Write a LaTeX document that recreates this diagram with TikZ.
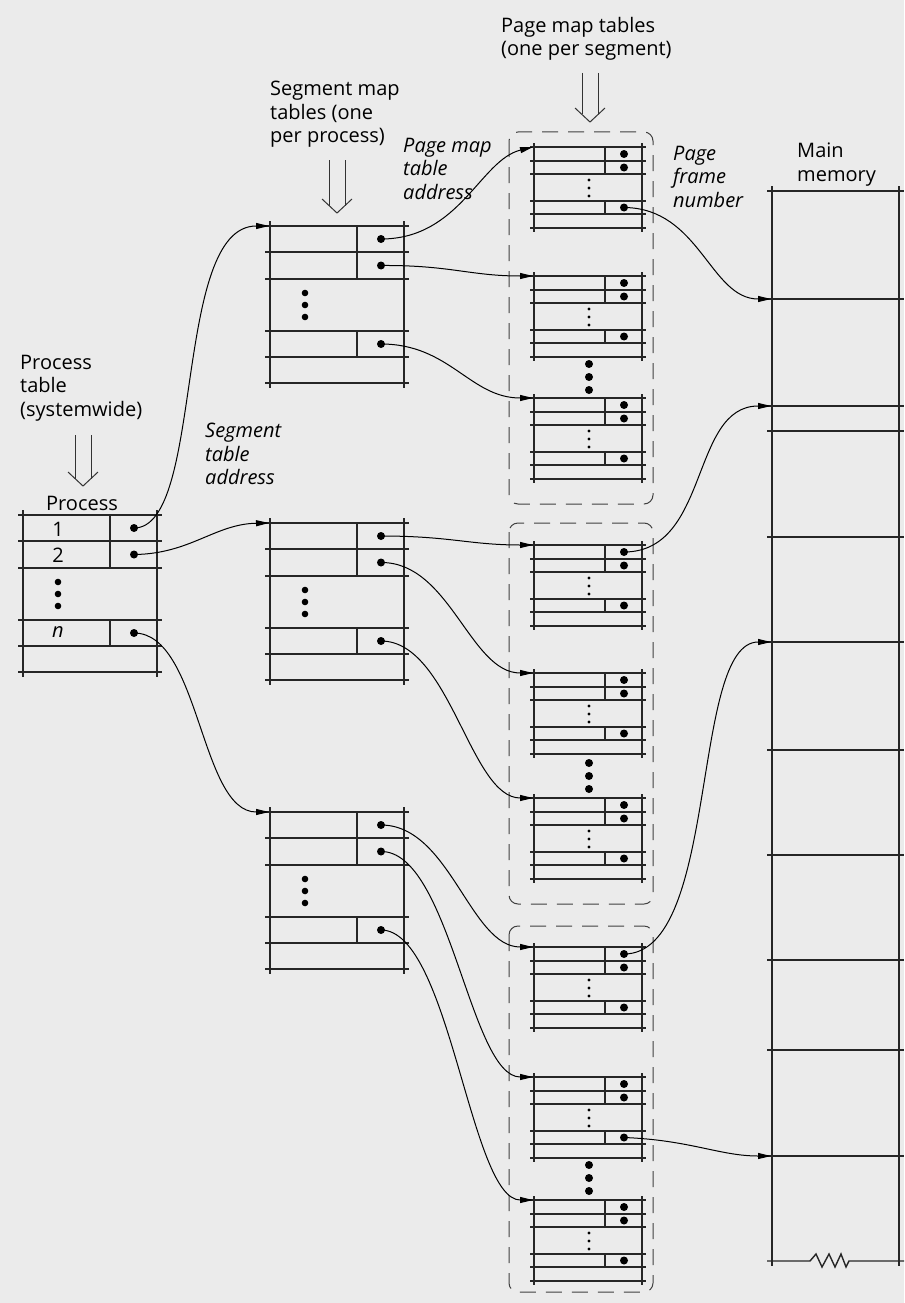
\documentclass[tikz,border=0pt]{standalone}
\usepackage{fontspec}
\setmainfont{Open Sans}
\usetikzlibrary{arrows.meta}
\newcommand\bigtab[3]{%
  \node[tabnode, minimum width=134pt, minimum height=157pt] (#1) at (#2,#3) {};
  \begin{scope}[shift={(#2,#3)}]
    \foreach \yy in {0,26,53,105,131,157}{\draw[tabline] (-5,\yy) -- (139,\yy);}
    \draw[tabline] (0,-5) -- (0,162);
    \draw[tabline] (134,-5) -- (134,162);
    \draw[tabline] (87,0) -- (87,53);
    \draw[tabline] (87,105) -- (87,131);
    \coordinate (#1-1) at (111,13);
    \coordinate (#1-2) at (111,39.5);
    \coordinate (#1-n) at (111,118);
    \foreach \q in {1,2,n}{\fill (#1-\q) circle (4pt);}
    \foreach \yy in {67,79,91}{\fill (35,\yy) circle (3.3pt);}
  \end{scope}}
\newcommand\pgtab[3]{%
  \node[tabnode, minimum width=108pt, minimum height=81pt] (#1) at (#2,#3) {};
  \begin{scope}[shift={(#2,#3)}]
    \foreach \yy in {0,14,27,54,67,81}{\draw[pgline] (-4,\yy) -- (112,\yy);}
    \draw[pgline] (0,-4) -- (0,85);
    \draw[pgline] (108,-4) -- (108,85);
    \draw[pgline] (71,0) -- (71,27);
    \draw[pgline] (71,54) -- (71,67);
    \coordinate (#1-1) at (90,7);
    \coordinate (#1-2) at (90,20.5);
    \coordinate (#1-n) at (90,60.5);
    \foreach \q in {1,2,n}{\fill (#1-\q) circle (4pt);}
    \foreach \yy in {33,41,49}{\fill (55,\yy) circle (1.7pt);}
  \end{scope}}
\newcommand\hollowarrow[4]{% name, x, ytop, ytip
  \coordinate (#1) at (#2,#4);
  \draw[hollow] (#2-8,#3) -- (#2-8,#4-7.5);
  \draw[hollow] (#2+8,#3) -- (#2+8,#4-7.5);
  \draw[hollow] (#2-15,#4-14) -- (#1) -- (#2+15,#4-14);}
\newcommand\bigdots[3]{% name, x, ytop
  \foreach \k [count=\i] in {0,13,26}{\fill (#2,#3+\k) circle (4pt) coordinate (#1-\i);}}
\begin{document}
\begin{tikzpicture}[x=1pt,y=-1pt,
  tabline/.style={line width=1.8pt, draw=black!85},
  pgline/.style={line width=1.6pt, draw=black!85},
  memline/.style={line width=1.4pt, draw=black!85},
  tabnode/.style={draw=none, inner sep=0pt, outer sep=0pt, anchor=north west},
  conn/.style={line width=1pt, black, -{Triangle[length=13pt,width=6pt]}},
  lbl/.style={inner sep=0pt, anchor=north west, align=left, font=\fontsize{20}{23.5}\selectfont},
  ilbl/.style={inner sep=0pt, anchor=north west, align=left, font=\fontsize{20}{23.5}\selectfont\itshape},
  grp/.style={draw=black!75, line width=1pt, dash pattern=on 16pt off 10pt, rounded corners=9pt},
  hollow/.style={line width=1pt, draw=black!80},
]
\fill[black!8] (0,0) rectangle (904,1303);

% ---------- labels ----------
\node[lbl] (ptitle) at (20,355) {Process\\table\\(systemwide)};
\node[lbl, anchor=north] (plabel) at (82,496) {Process};
\node[lbl] (stitle) at (270,81) {Segment map\\tables (one\\per process)};
\node[lbl] (pgtitle) at (501,17) {Page map tables\\(one per segment)};
\node[ilbl] (sta) at (205,423) {Segment\\table\\address};
\node[ilbl] (pmta) at (403,138) {Page map\\table\\address};
\node[ilbl] (pfn) at (673,146) {Page\\frame\\number};
\node[lbl] (mm) at (797,143) {Main\\memory};

\hollowarrow{ha1}{83}{435}{486}
\hollowarrow{ha2}{337}{160}{213}
\hollowarrow{ha3}{590}{73}{122}

% ---------- process table ----------
\bigtab{P}{23}{515}
\node[font=\fontsize{20}{24}\selectfont] (p1) at (58,529) {1};
\node[font=\fontsize{20}{24}\selectfont] (p2) at (58,555) {2};
\node[font=\fontsize{20}{24}\selectfont\itshape] (pn) at (58,632) {n};

% ---------- segment tables ----------
\bigtab{S1}{270}{226}
\bigtab{S2}{270}{523}
\bigtab{S3}{270}{812}

% ---------- page table groups ----------
\draw[grp] (509,132) rectangle (653,504);
\draw[grp] (509,523) rectangle (653,904);
\draw[grp] (509,926) rectangle (653,1292);

\pgtab{G1}{534}{147}
\pgtab{G2}{534}{276}
\bigdots{D1}{589}{364}
\pgtab{G3}{534}{398}
\pgtab{G4}{534}{545}
\pgtab{G5}{534}{673}
\bigdots{D2}{589}{763}
\pgtab{G6}{534}{798}
\pgtab{G7}{534}{947}
\pgtab{G8}{534}{1077}
\bigdots{D3}{589}{1165}
\pgtab{G9}{534}{1200}

% ---------- main memory ----------
\node[tabnode, minimum width=127pt, minimum height=1070pt] (mem) at (772,191) {};
\draw[memline] (767,191) -- (904,191);
\draw[memline] (772,186) -- (772,1266);
\draw[memline] (899,186) -- (899,1266);
\foreach \yy in {299,406,431,537,642,750,855,960,1050,1156}{\draw[memline] (767,\yy) -- (904,\yy);}
\draw[memline] (767,1261) -- (810,1261) -- (816,1254) -- (822,1267) -- (829,1254) -- (835,1267) -- (841,1254) -- (846,1267) -- (849,1261) -- (904,1261);
\coordinate (M1) at (771,299);
\coordinate (M2) at (771,406);
\coordinate (M3) at (771,642);
\coordinate (M4) at (771,1156);

% ---------- connectors ----------
\draw[conn] (P-1) .. controls (205,528) and (172,226) .. ([xshift=-1pt]S1.north west);
\draw[conn] (P-2) .. controls (190,554) and (215,524) .. ([xshift=-1pt]S2.north west);
\draw[conn] (P-n) .. controls (200,633) and (200,812) .. ([xshift=-1pt]S3.north west);

\draw[conn] (S1-1) .. controls (460,239) and (480,160) .. ([xshift=-1pt]G1.north west);
\draw[conn] (S1-2) .. controls (450,265) and (470,276) .. ([xshift=-1pt]G2.north west);
\draw[conn] (S1-n) .. controls (450,344) and (470,398) .. ([xshift=-1pt]G3.north west);
\draw[conn] (S2-1) .. controls (450,536) and (470,545) .. ([xshift=-1pt]G4.north west);
\draw[conn] (S2-2) .. controls (450,562) and (470,673) .. ([xshift=-1pt]G5.north west);
\draw[conn] (S2-n) .. controls (450,641) and (470,798) .. ([xshift=-1pt]G6.north west);
\draw[conn] (S3-1) .. controls (450,825) and (470,947) .. ([xshift=-1pt]G7.north west);
\draw[conn] (S3-2) .. controls (450,851) and (470,1077) .. ([xshift=-1pt]G8.north west);
\draw[conn] (S3-n) .. controls (450,930) and (470,1200) .. ([xshift=-1pt]G9.north west);

\draw[conn] (G1-n) .. controls (700,208) and (710,299) .. (M1);
\draw[conn] (G4-1) .. controls (710,552) and (690,406) .. (M2);
\draw[conn] (G7-1) .. controls (720,954) and (690,642) .. (M3);
\draw[conn] (G8-n) .. controls (690,1140) and (720,1156) .. (M4);
\end{tikzpicture}
\end{document}
